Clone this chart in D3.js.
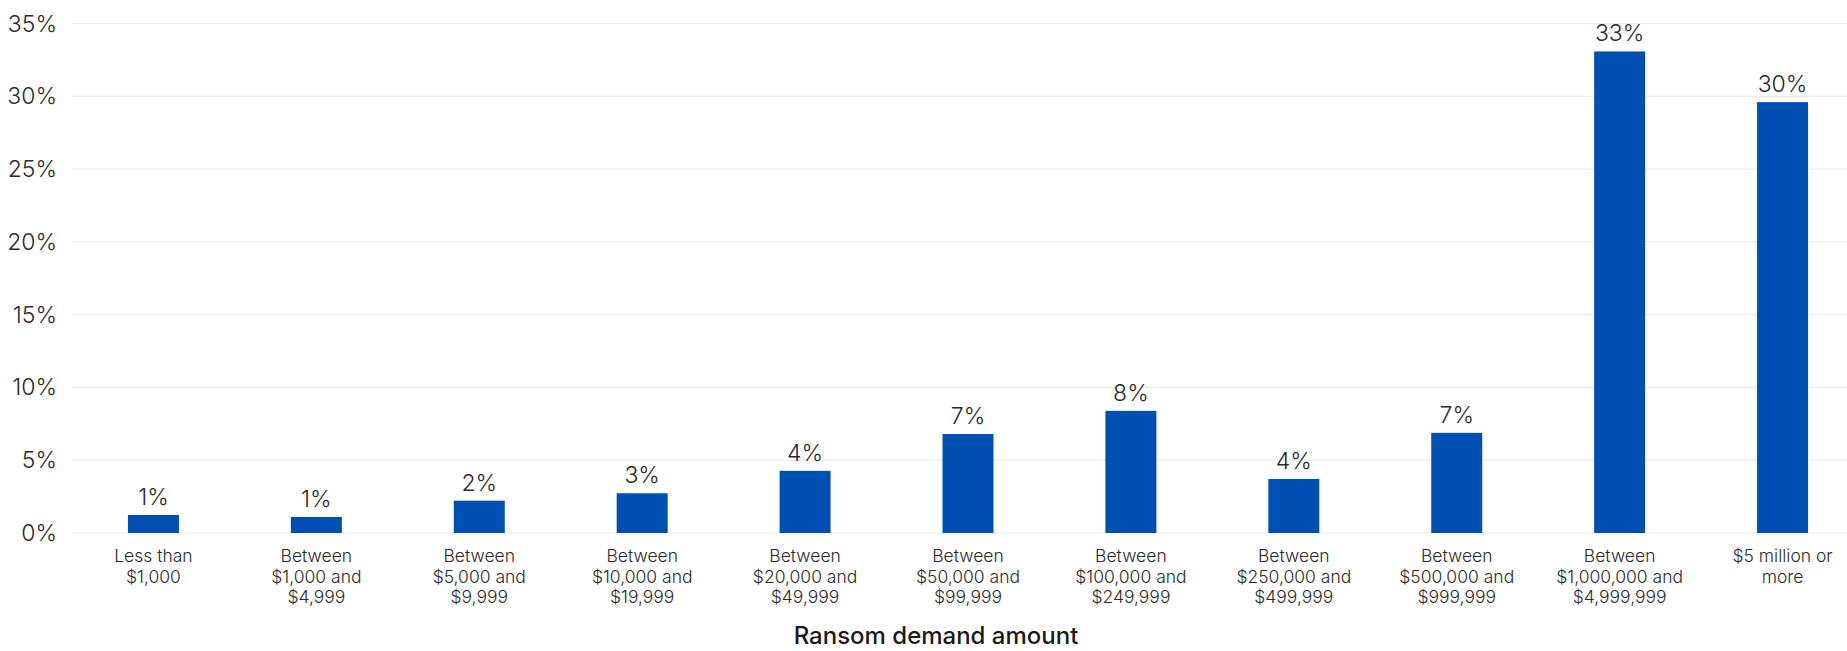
<!DOCTYPE html>
<html>
<head>
<meta charset="utf-8">
<script src="https://cdn.jsdelivr.net/npm/d3@7"></script>
<style>
  html, body { margin: 0; padding: 0; background: #fff; }
  svg { display: block; font-family: Inter, "Noto Sans", sans-serif; }
  .tick-label { font-size: 23px; font-weight: 300; fill: #2b2b2b; }
  .value-label { font-size: 23px; font-weight: 300; fill: #2b2b2b; }
  .cat-label { font-size: 17.5px; font-weight: 300; fill: #2b2b2b; }
  .axis-title { font-size: 24px; font-weight: 500; fill: #1a1a1a; }
</style>
</head>
<body>
<div id="chart"></div>
<script>
// Ransom demand amount — share of respondents per bracket
const categories = [
  ["Less than", "$1,000"],
  ["Between", "$1,000 and", "$4,999"],
  ["Between", "$5,000 and", "$9,999"],
  ["Between", "$10,000 and", "$19,999"],
  ["Between", "$20,000 and", "$49,999"],
  ["Between", "$50,000 and", "$99,999"],
  ["Between", "$100,000 and", "$249,999"],
  ["Between", "$250,000 and", "$499,999"],
  ["Between", "$500,000 and", "$999,999"],
  ["Between", "$1,000,000 and", "$4,999,999"],
  ["$5 million or", "more"]
];
const values = [1.24, 1.1, 2.22, 2.73, 4.27, 6.8, 8.39, 3.71, 6.88, 33.08, 29.6];
const yTicks = [0, 5, 10, 15, 20, 25, 30, 35];
const axisTitle = "Ransom demand amount";

const W = 1847, H = 651;
const plotLeft = 72, plotRight = 1864;   // last band runs off the canvas edge
const plotTop = 23.5, plotBottom = 533;

const svg = d3.select('#chart').append('svg')
  .attr('width', W).attr('height', H);

const x = d3.scaleBand()
  .domain(d3.range(categories.length))
  .range([plotLeft, plotRight])
  .paddingInner(0.687)
  .paddingOuter(0.3435);

const y = d3.scaleLinear().domain([0, 35]).range([plotBottom, plotTop]);

// gridlines + y labels
const gy = svg.append('g');
gy.selectAll('line').data(yTicks).join('line')
  .attr('x1', plotLeft).attr('x2', W)
  .attr('y1', d => y(d)).attr('y2', d => y(d))
  .attr('stroke', '#ececec').attr('stroke-width', 1.2);
gy.selectAll('text').data(yTicks).join('text')
  .attr('class', 'tick-label')
  .attr('x', plotLeft - 15).attr('y', d => y(d))
  .attr('dy', '0.35em').attr('text-anchor', 'end')
  .text(d => d + '%');

// bars
svg.append('g').selectAll('rect').data(values).join('rect')
  .attr('x', (d, i) => x(i))
  .attr('width', x.bandwidth())
  .attr('y', d => y(d))
  .attr('height', d => plotBottom - y(d))
  .attr('fill', '#0050b4');

// value labels
svg.append('g').selectAll('text').data(values).join('text')
  .attr('class', 'value-label')
  .attr('x', (d, i) => x(i) + x.bandwidth() / 2)
  .attr('y', d => y(d) - 10)
  .attr('text-anchor', 'middle')
  .text(d => d3.format('.0f')(d) + '%');

// category labels
const cl = svg.append('g').selectAll('text').data(categories).join('text')
  .attr('class', 'cat-label')
  .attr('text-anchor', 'middle')
  .attr('x', (d, i) => x(i) + x.bandwidth() / 2)
  .attr('y', plotBottom + 29);
cl.selectAll('tspan').data(d => d).join('tspan')
  .attr('x', function () { return d3.select(this.parentNode).attr('x'); })
  .attr('dy', (d, i) => i === 0 ? 0 : 20.6)
  .text(d => d);

// x axis title
svg.append('text')
  .attr('class', 'axis-title')
  .attr('x', 936).attr('y', 644)
  .attr('text-anchor', 'middle')
  .text(axisTitle);
</script>
</body>
</html>
